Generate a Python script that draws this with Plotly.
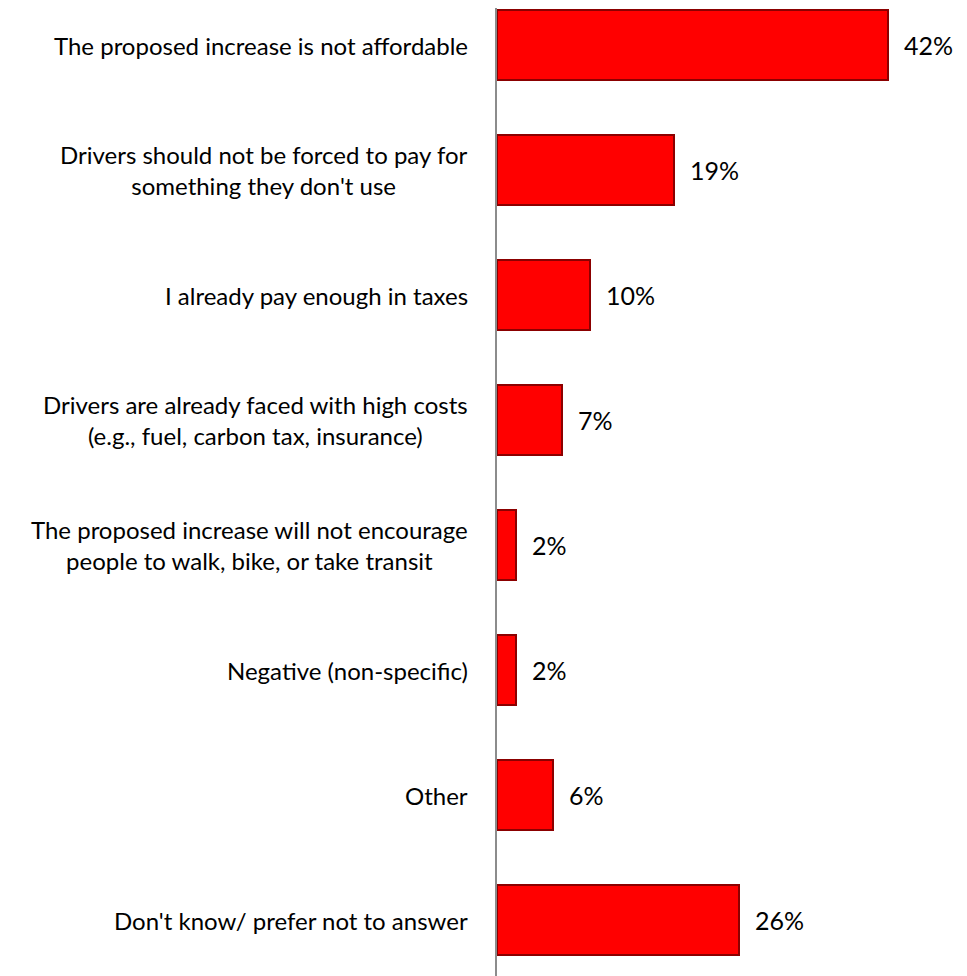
import plotly.graph_objects as go

categories = [
    "The proposed increase is not affordable",
    "Drivers should not be forced to pay for<br>something they don't use",
    "I already pay enough in taxes",
    "Drivers are already faced with high costs<br>(e.g., fuel, carbon tax, insurance)",
    "The proposed increase will not encourage<br>people to walk, bike, or take transit",
    "Negative (non-specific)",
    "Other",
    "Don't know/ prefer not to answer",
]
values = [42, 19, 10, 7, 2, 2, 6, 26]
value_labels = ["42%", "19%", "10%", "7%", "2%", "2%", "6%", "26%"]

positions = list(range(len(categories)))
FONT = "Lato"

fig = go.Figure()
fig.add_trace(go.Bar(
    x=values, y=positions, orientation="h", width=0.56,
    marker=dict(color="#FF0000", line=dict(color="#8B0000", width=2)),
    hoverinfo="skip", showlegend=False,
))

annotations = []
for pos, cat, v, lab in zip(positions, categories, values, value_labels):
    annotations.append(dict(
        x=0, xref="paper", y=pos, yref="y", text=cat, showarrow=False,
        xanchor="right", yanchor="middle", xshift=-27, align="center",
        font=dict(family=FONT, size=24, color="#000000"),
    ))
    annotations.append(dict(
        x=v, xref="x", y=pos, yref="y", text=lab, showarrow=False,
        xanchor="left", yanchor="middle", xshift=14,
        font=dict(family=FONT, size=25, color="#000000"),
    ))

fig.update_layout(
    width=959, height=968,
    margin=dict(l=489, r=0, t=0, b=0),
    paper_bgcolor="white", plot_bgcolor="white",
    xaxis=dict(visible=False, range=[0, 50.5]),
    yaxis=dict(range=[7.448, -0.296], showticklabels=False, showgrid=False,
               zeroline=False, showline=True, linecolor="#8C8C8C", linewidth=2,
               ticks=""),
    annotations=annotations,
    bargap=0,
)

fig.write_html("out.html")
